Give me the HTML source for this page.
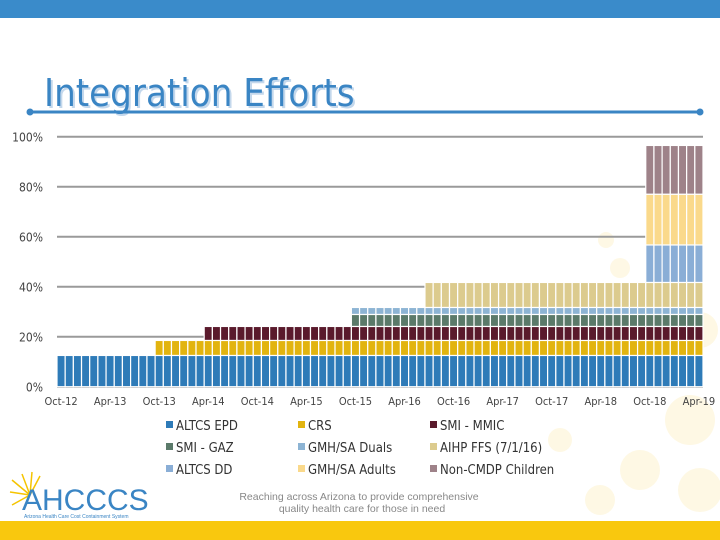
<!DOCTYPE html>
<html><head><meta charset="utf-8"><style>
body{margin:0;width:720px;height:540px;overflow:hidden;background:#fff;font-family:"Liberation Sans",sans-serif;}
svg{display:block}
</style></head><body>
<svg id="c" width="720" height="540">
<rect x="0" y="0" width="720" height="18" fill="#3a8bca"/>
<g fill="#fde9a8" opacity="0.3">
<circle cx="606" cy="240" r="8"/><circle cx="620" cy="268" r="10"/><circle cx="650" cy="300" r="13"/><circle cx="700" cy="330" r="18"/><circle cx="690" cy="420" r="25"/><circle cx="640" cy="470" r="20"/><circle cx="700" cy="490" r="22"/><circle cx="600" cy="500" r="15"/><circle cx="560" cy="440" r="12"/>
</g>
<text x="46" y="108" font-family="'DejaVu Sans Condensed','DejaVu Sans',sans-serif" font-size="38" fill="#c4d8ec">Integration Efforts</text>
<text x="44" y="106" font-family="'DejaVu Sans Condensed','DejaVu Sans',sans-serif" font-size="38" fill="#3a85c4">Integration Efforts</text>
<line x1="30" y1="112" x2="700" y2="112" stroke="#3a85c4" stroke-width="3"/>
<circle cx="30" cy="112" r="3.5" fill="#3a85c4"/>
<circle cx="700" cy="112" r="3.5" fill="#3a85c4"/>
<g id="grid"></g><g id="bars"></g><g id="axes"></g><g id="legend"></g>
<rect x="0" y="521" width="720" height="19" fill="#f9c80e"/>
<g>
<g stroke="#f5c400" stroke-width="1.5">
<line x1="30" y1="495" x2="12" y2="480"/><line x1="30" y1="495" x2="22" y2="474"/><line x1="30" y1="495" x2="32" y2="472"/><line x1="30" y1="495" x2="10" y2="492"/><line x1="30" y1="495" x2="12" y2="505"/><line x1="30" y1="495" x2="40" y2="476"/>
</g>
<text x="22" y="510" font-size="30" fill="#3a85c4" font-family="'Liberation Sans',sans-serif">AHCCCS</text>
<text x="24" y="518" font-size="5" fill="#3a85c4">Arizona Health Care Cost Containment System</text>
</g>
<text x="359" y="500" text-anchor="middle" font-size="10.5" fill="#888">Reaching across Arizona to provide comprehensive</text>
<text x="362" y="512" text-anchor="middle" font-size="10.5" fill="#888">quality health care for those in need</text>
</svg>
<script>
const months = 79; // Oct-12 .. Apr-19
const seriesNames = ["ALTCS EPD","CRS","SMI - MMIC","SMI - GAZ","GMH/SA Duals","AIHP FFS (7/1/16)","ALTCS DD","GMH/SA Adults","Non-CMDP Children"];
const seriesColors = ["#2e7bb8","#e2b40f","#5a1a2c","#5b7a6a","#8db4d4","#dccb8e","#8aaed6","#fad98b","#9e8289"];
const seriesStart = [0,12,18,36,36,45,72,72,72];
const seriesValue = [12.5,6,5.6,4.8,2.8,10,15,20.3,19.5];
const tickLabels = ["Oct-12","Apr-13","Oct-13","Apr-14","Oct-14","Apr-15","Oct-15","Apr-16","Oct-16","Apr-17","Oct-17","Apr-18","Oct-18","Apr-19"];
const yTicks = [0,20,40,60,80,100];

const NS="http://www.w3.org/2000/svg";
const x0=57,x1=703,yBase=386.7,yTop=136.7;
const bw=(x1-x0)/months;
const xs=i=>x0+i*bw;
const ys=v=>yBase-(v/100)*(yBase-yTop);
function mk(tag,attrs,parent){const e=document.createElementNS(NS,tag);for(const k in attrs)e.setAttribute(k,attrs[k]);parent.appendChild(e);return e;}
const grid=document.getElementById('grid'),bars=document.getElementById('bars'),axes=document.getElementById('axes'),legend=document.getElementById('legend');
yTicks.forEach(t=>{
  const l=mk('line',{x1:x0,x2:x1,y1:ys(t),y2:ys(t),stroke:'#9a9a9a','stroke-width':2},grid);
  
  
  const tx=mk('text',{x:43,y:ys(t)+5,'text-anchor':'end','font-size':12,fill:'#444','font-family':"'DejaVu Sans Condensed','Liberation Sans',sans-serif"},axes);
  tx.textContent=t+'%';
  
  
});
for(let i=0;i<months;i++){
  let cum=0;
  seriesNames.forEach((n,s)=>{
    if(i<seriesStart[s])return;
    const v=seriesValue[s];
    const r=mk('rect',{x:xs(i),width:bw,y:ys(cum+v),height:ys(cum)-ys(cum+v),fill:seriesColors[s],stroke:'#fff','stroke-width':1.2},bars);
    
    
    cum+=v;
  });
}
tickLabels.forEach((t,k)=>{
  const tx=mk('text',{x:xs(k*6)+bw/2,y:405,'text-anchor':'middle','font-size':11,fill:'#444','font-family':"'DejaVu Sans Condensed','Liberation Sans',sans-serif"},axes);
  tx.textContent=t;
  
  
});
const colX=[166,298,430],rowY=[425,447,469];
seriesNames.forEach((n,s)=>{
  const cx=colX[s%3],cy=rowY[Math.floor(s/3)];
  const g=mk('g',{},legend);
  
  
  mk('rect',{x:cx,y:cy-4,width:7,height:7,fill:seriesColors[s]},g);
  const tx=mk('text',{x:cx+10,y:cy+5,'font-size':13,fill:'#333','font-family':"'DejaVu Sans Condensed','Liberation Sans',sans-serif"},g);
  tx.textContent=n;
});
</script>
</body></html>
